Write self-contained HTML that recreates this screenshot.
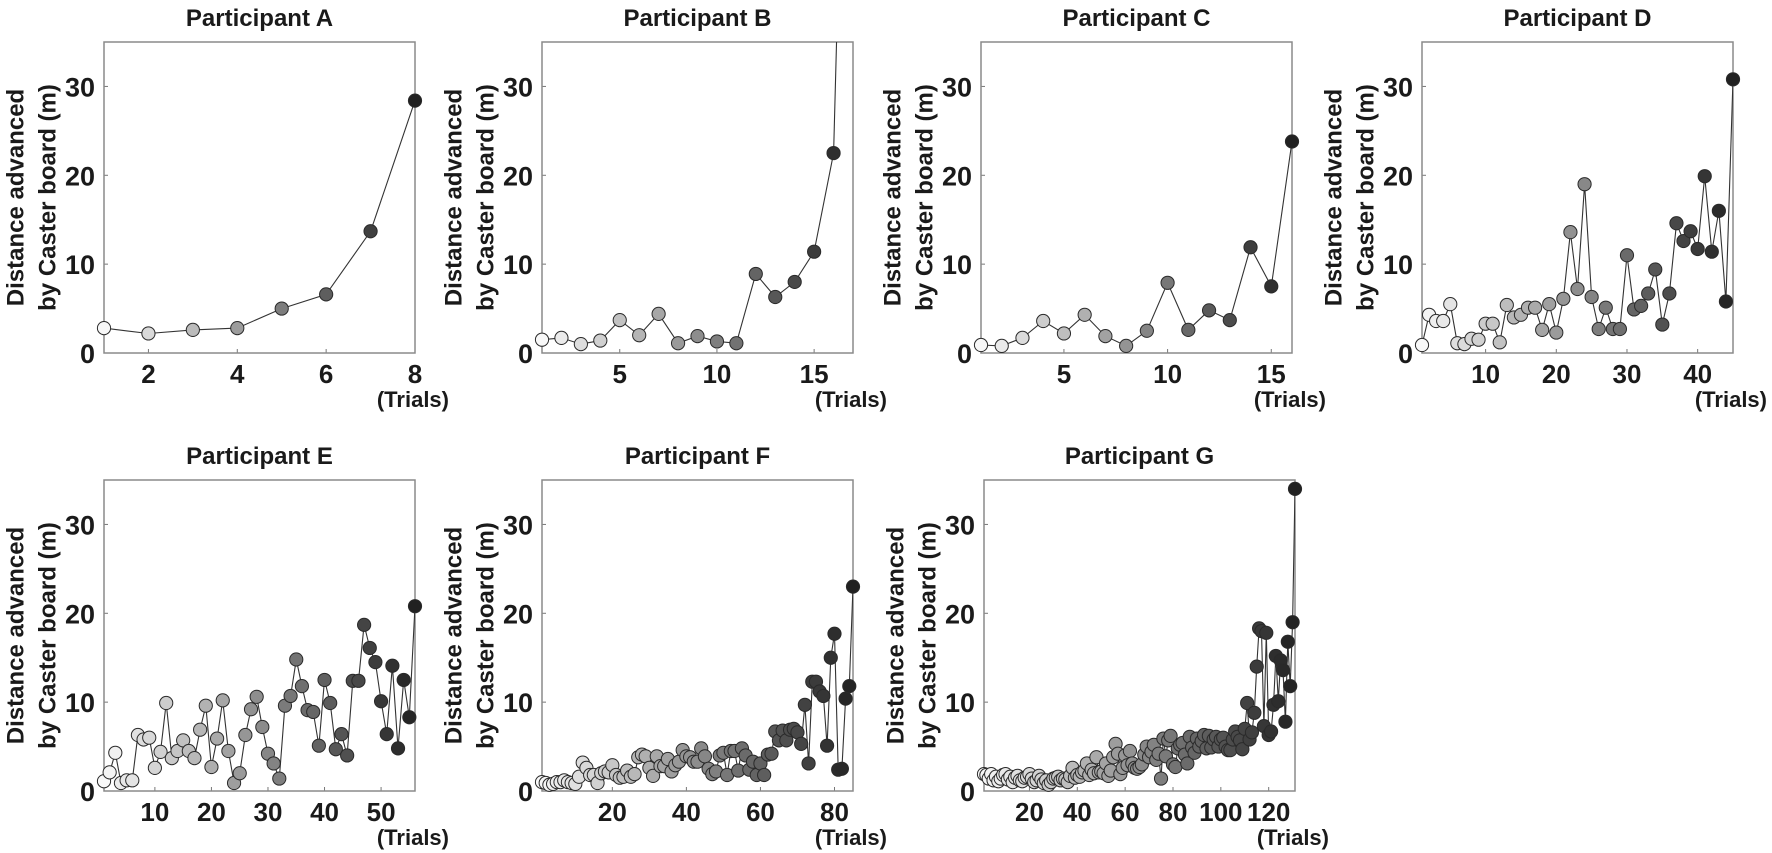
<!DOCTYPE html>
<html><head><meta charset="utf-8"><style>
html,body{margin:0;padding:0;background:#fff;}
svg{display:block;font-family:"Liberation Sans",Arial,sans-serif;font-weight:bold;}
</style></head><body>
<svg id="fig" width="1772" height="853" viewBox="0 0 1772 853" xmlns="http://www.w3.org/2000/svg"></svg>
<script>
const panelNames = ["A","B","C","D","E","F","G"];
const dataA = [2.8,2.2,2.6,2.8,5.0,6.6,13.7,28.4];
const dataB = [1.5,1.7,1.0,1.4,3.7,2.0,4.4,1.1,1.9,1.3,1.1,8.9,6.3,8.0,11.4,22.5,105];
const dataC = [0.9,0.8,1.7,3.6,2.2,4.3,1.9,0.8,2.5,7.9,2.6,4.8,3.7,11.9,7.5,23.8];
const dataD = [0.9,4.3,3.6,3.6,5.5,1.1,1.0,1.6,1.5,3.3,3.3,1.2,5.4,4.0,4.3,5.1,5.1,2.6,5.5,2.3,6.1,13.6,7.2,19.0,6.3,2.7,5.1,2.7,2.7,11.0,4.9,5.3,6.7,9.4,3.2,6.7,14.6,12.6,13.7,11.7,19.9,11.4,16.0,5.8,30.8];
const dataE = [1.1,2.1,4.3,0.9,1.2,1.2,6.3,5.8,6.0,2.6,4.4,9.9,3.7,4.5,5.7,4.5,3.7,6.9,9.6,2.7,5.9,10.2,4.5,0.9,2.0,6.3,9.2,10.6,7.2,4.2,3.1,1.4,9.6,10.7,14.8,11.8,9.1,8.9,5.1,12.5,9.9,4.7,6.4,4.0,12.4,12.4,18.7,16.1,14.5,10.1,6.4,14.1,4.8,12.5,8.3,20.8];
const dataF = [1.0,0.9,0.7,0.8,1.0,1.0,1.2,1.0,0.9,0.8,1.6,3.2,2.6,1.8,1.8,0.9,2.0,2.2,2.1,2.9,1.8,1.5,1.6,2.3,1.6,1.9,3.8,4.1,3.9,2.6,1.7,3.9,2.8,2.8,3.6,2.2,2.9,3.3,4.6,3.9,3.8,3.3,3.3,4.8,3.9,2.5,1.9,2.2,4.0,4.3,1.8,4.5,4.5,2.3,4.8,4.0,2.4,3.3,1.8,3.1,1.8,4.1,4.2,6.7,5.7,6.8,5.7,6.9,7.0,6.6,5.3,9.7,3.1,12.3,12.3,11.2,10.7,5.1,15.0,17.7,2.4,2.5,10.4,11.8,23.0];
const dataG = [1.9,1.8,1.4,1.9,1.2,1.6,1.1,1.4,1.8,1.9,1.3,1.6,1.0,1.5,1.7,1.2,1.1,1.5,1.6,1.9,1.4,1.0,1.2,1.7,1.3,0.9,1.2,0.7,1.0,1.4,
1.5,1.6,1.2,1.4,1.3,1.0,1.7,2.6,1.5,1.8,1.6,2.1,2.3,3.1,1.8,2.4,2.0,3.8,2.1,2.2,2.0,3.1,1.7,2.3,3.8,5.3,4.2,1.9,2.6,4.0,
2.9,4.5,3.1,2.6,2.5,2.7,3.0,4.1,5.0,3.8,4.4,5.2,3.5,4.2,1.4,5.9,3.9,5.7,6.2,3.0,2.7,4.8,5.2,5.4,4.1,3.1,6.1,4.9,4.3,5.9,
5.0,5.6,6.3,4.8,6.2,4.9,5.8,6.1,5.0,5.8,6.0,5.0,4.6,4.6,5.8,6.7,6.1,5.7,4.7,7.0,9.9,5.8,6.6,8.8,14.0,18.3,18.0,7.3,17.8,6.3,
6.7,9.7,15.2,10.1,14.7,13.6,7.8,16.8,11.8,19.0,34.0];
const xTicksA=[2,4,6,8], xTicksB=[5,10,15], xTicksC=[5,10,15], xTicksD=[10,20,30,40], xTicksE=[10,20,30,40,50], xTicksF=[20,40,60,80], xTicksG=[20,40,60,80,100,120];
const yTicks=[0,10,20,30];
const xMaxes=[8,17,16,45,56,85,131];

const NS="http://www.w3.org/2000/svg";
const svg=document.getElementById('fig');
function mk(tag,attrs,parent){const e=document.createElementNS(NS,tag);for(const k in attrs)e.setAttribute(k,attrs[k]);(parent||svg).appendChild(e);return e;}

const layout=[
 {l:104,t:42,b:353},{l:542,t:42,b:353},{l:981,t:42,b:353},{l:1422,t:42,b:353},
 {l:104,t:480,b:791},{l:542,t:480,b:791},{l:984,t:480,b:791}];
const allData=[dataA,dataB,dataC,dataD,dataE,dataF,dataG];
const allTicks=[xTicksA,xTicksB,xTicksC,xTicksD,xTicksE,xTicksF,xTicksG];

allData.forEach((data,p)=>{
  const L=layout[p], W=311, R=L.l+W;
  const g=mk('g',{});
  
  
  const xs=v=>L.l+(v-1)/(xMaxes[p]-1)*W;
  const ys=v=>L.b-(v/35)*(L.b-L.t);
  const cid='clip'+p;
  const cp=mk('clipPath',{id:cid},g); mk('rect',{x:L.l,y:L.t,width:W,height:L.b-L.t},cp);
  const tt=mk('text',{x:L.l+W/2,y:L.t-16,'text-anchor':'middle','font-size':24,fill:'#1a1a1a'},g);
  tt.textContent='Participant '+panelNames[p];
  
  
  const yc=(L.t+L.b)/2;
  [['Distance advanced',-88],['by Caster board (m)',-56]].forEach(([s,dx])=>{
    const t=mk('text',{x:0,y:0,'text-anchor':'middle','dominant-baseline':'central','font-size':24,fill:'#1a1a1a',transform:`translate(${L.l+dx},${yc}) rotate(-90)`},g);
    t.textContent=s;
    
    
  });
  yTicks.forEach(v=>{
    const y=ys(v);
    mk('line',{x1:L.l,x2:L.l+4,y1:y,y2:y,stroke:'#777','stroke-width':1},g);
    const t=mk('text',{x:L.l-9,y:y+10,'text-anchor':'end','font-size':27,fill:'#1a1a1a'},g);
    t.textContent=v;
    
    
  });
  allTicks[p].forEach(v=>{
    const x=xs(v);
    mk('line',{x1:x,x2:x,y1:L.b,y2:L.b-4,stroke:'#777','stroke-width':1},g);
    const t=mk('text',{x:x,y:L.b+30,'text-anchor':'middle','font-size':26,fill:'#1a1a1a'},g);
    t.textContent=v;
    
    
  });
  const tr=mk('text',{x:R+34,y:L.b+54,'text-anchor':'end','font-size':22,fill:'#1a1a1a'},g);
  tr.textContent='(Trials)';
  
  
  const box=mk('rect',{x:L.l,y:L.t,width:W,height:L.b-L.t,fill:'none',stroke:'#8a8a8a','stroke-width':1.5},g);
  
  
  const pts=data.map((v,i)=>xs(i+1).toFixed(1)+','+ys(v).toFixed(1)).join(' ');
  const pl=mk('polyline',{points:pts,fill:'none',stroke:'#333','stroke-width':1.1,'clip-path':`url(#${cid})`},g);
  
  
  const n=data.length;
  data.forEach((v,i)=>{
    if(v>35) return;
    const f=n>1?i/(n-1):0;
    const gr=Math.round(248-f*215);
    const c=mk('circle',{cx:xs(i+1),cy:ys(v),r:6.6,fill:`rgb(${gr},${gr},${gr})`,stroke:'#2a2a2a','stroke-width':1},g);
    
    
  });
});
</script>
</body></html>
